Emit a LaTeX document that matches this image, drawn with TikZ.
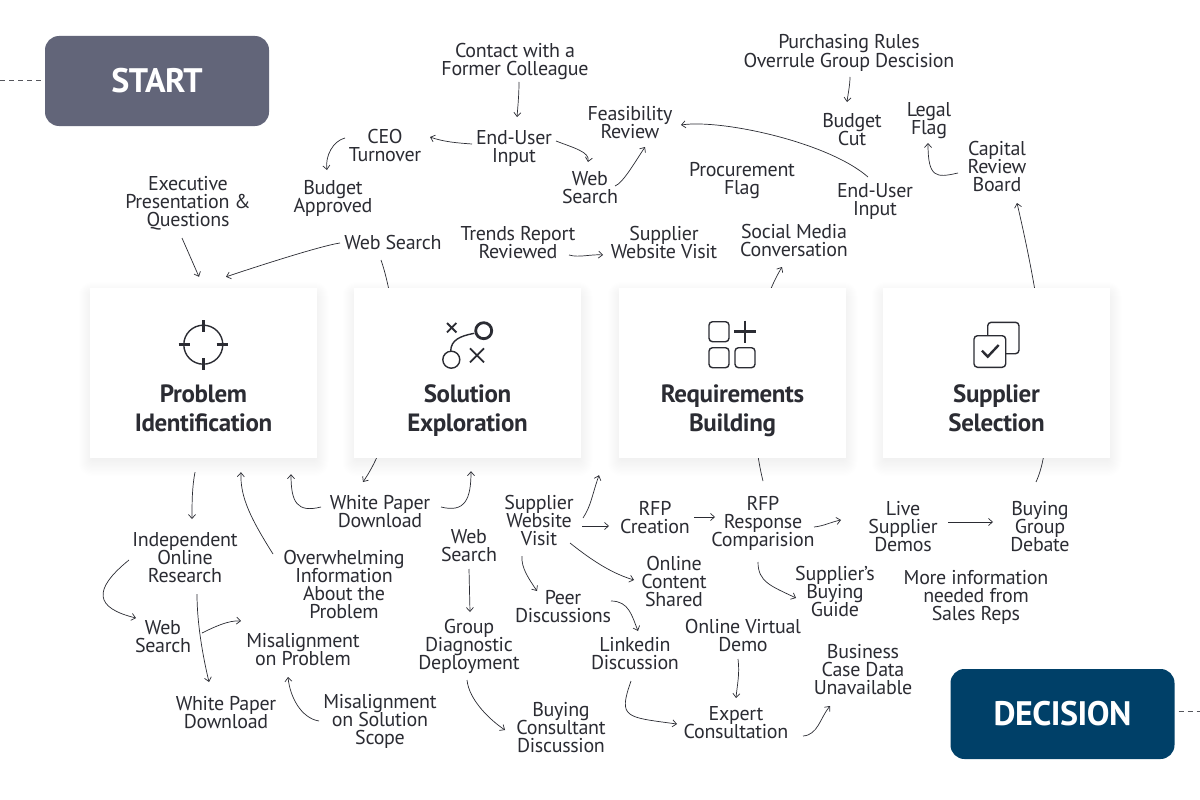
\documentclass[tikz,border=0pt]{standalone}
\usepackage{fontspec}
\setmainfont{PT Sans}[LetterSpace=-1.5]
\usetikzlibrary{arrows.meta}
\definecolor{inkc}{HTML}{2B2C33}
\definecolor{startc}{HTML}{626579}
\definecolor{decisionc}{HTML}{004068}
\newcommand{\tightlines}{\lineskiplimit=-20pt\relax}
\newcommand{\topstrut}{\rule{0pt}{20pt}}
\tikzset{
	txt/.style={align=center, inner sep=0pt, text=inkc, font=\fontsize{20}{18}\selectfont\tightlines,
		execute at end node=\rule[-6pt]{0pt}{6pt}},
	flow/.style={-{Straight Barb[length=4pt,width=7pt]}, line width=0.7pt, draw=inkc},
	cardbox/.style={fill=white, minimum width=227pt, minimum height=170pt, inner sep=0pt},
	cardtitle/.style={align=center, inner sep=0pt, text=inkc, font=\fontsize{25}{29}\selectfont\bfseries\tightlines,
		execute at begin node=\rule{0pt}{19pt}, execute at end node=\rule[-7pt]{0pt}{7pt}},
	endbox/.style={rounded corners=14pt, minimum width=224pt, minimum height=90pt, inner sep=0pt, text=white, font=\fontsize{34}{36}\selectfont\bfseries},
	dashline/.style={dashed, dash pattern=on 5pt off 4pt, line width=1pt, draw=inkc!80},
	icon/.style={draw=inkc, line width=1.8pt},
	iconthin/.style={draw=inkc, line width=1.4pt, rounded corners=3.5pt}
}
\begin{document}
\begin{tikzpicture}[x=1pt, y=-1pt]
	\useasboundingbox (0,0) rectangle (1200,800);
	\fill[white] (0,0) rectangle (1200,800);
	% soft shadows of the four cards
	\foreach \cx in {203.5,467.5,732.5,996.5} {
		\foreach \g in {1,...,14} {
			\fill[black, opacity=0.005, rounded corners=\g pt] (\cx-111-\g, 288+8-\g) rectangle (\cx+111+\g, 458+\g*1.3);
		}
	}
	% start and decision
	\node[endbox, fill=startc] (startbox) at (157,81) {\raisebox{-1.5pt}{START}};
	\node[endbox, fill=decisionc] (decisionbox) at (1062.5,714) {\raisebox{-1pt}{DECISION}};
	\coordinate (startin) at (0,81);
	\coordinate (decisionout) at (1200,711);
	\draw[dashline] (startin) -- ([shift={(-4,0)}]startbox.west);
	\draw[dashline] ([shift={(4,-3)}]decisionbox.east) -- (decisionout);
	% texts above the cards
	\node[txt] (contact) at (515,60) {\topstrut Contact with a\\Former Colleague};
	\node[txt] (enduser) at (514,146) {\topstrut End-User\\Input};
	\node[txt] (ceo) at (385,145) {\topstrut CEO\\Turnover};
	\node[txt] (budgetok) at (333,196) {\topstrut Budget\\Approved};
	\node[txt] (exec) at (188,201) {\topstrut Executive\\Presentation \&\\Questions};
	\node[txt] (websearch) at (393,242) {\topstrut Web Search};
	\node[txt] (feas) at (630,122) {\topstrut Feasibility\\Review};
	\node[txt] (websearchb) at (590,187) {\topstrut Web\\Search};
	\node[txt] (trends) at (518,242) {\topstrut Trends Report\\Reviewed};
	\node[txt] (sitevisit) at (664,242) {\topstrut Supplier\\Website Visit};
	\node[txt] (procure) at (742,178) {\topstrut Procurement\\Flag};
	\node[txt] (social) at (794,240) {\topstrut Social Media\\Conversation};
	\node[txt] (enduserb) at (875,199) {\topstrut End-User\\Input};
	\node[txt] (rules) at (849,51) {\topstrut Purchasing Rules\\Overrule Group Descision};
	\node[txt] (budgetcut) at (852,129) {\topstrut Budget\\Cut};
	\node[txt] (legal) at (929,118) {\topstrut Legal\\Flag};
	\node[txt] (capital) at (997,166) {\topstrut Capital\\Review\\Board};
	% texts below the cards
	\node[txt] (paper) at (380,511) {\topstrut White Paper\\Download};
	\node[txt] (sitevisitb) at (539,520) {\topstrut Supplier\\Website\\Visit};
	\node[txt] (rfp) at (655,517) {\topstrut RFP\\Creation};
	\node[txt] (response) at (763,521) {\topstrut RFP\\Response\\Comparision};
	\node[txt] (demos) at (903,526) {\topstrut Live\\Supplier\\Demos};
	\node[txt] (debate) at (1040,526) {\topstrut Buying\\Group\\Debate};
	\node[txt] (research) at (185,557) {\topstrut Independent\\Online\\Research};
	\node[txt] (overload) at (344,584) {\topstrut Overwhelming\\Information\\About the\\Problem};
	\node[txt] (websearchc) at (469,545) {\topstrut Web\\Search};
	\node[txt] (websearchd) at (163,636) {\topstrut Web\\Search};
	\node[txt] (misproblem) at (303,649) {\topstrut Misalignment\\on Problem};
	\node[txt] (paperb) at (226,712) {\topstrut White Paper\\Download};
	\node[txt] (misscope) at (380,719) {\topstrut Misalignment\\on Solution\\Scope};
	\node[txt] (group) at (469,644) {\topstrut Group\\Diagnostic\\Deployment};
	\node[txt] (consultant) at (561,727) {\topstrut Buying\\Consultant\\Discussion};
	\node[txt] (peer) at (563,606) {\topstrut Peer\\Discussions};
	\node[txt] (shared) at (674,581) {\topstrut Online\\Content\\Shared};
	\node[txt] (linkedin) at (635,653) {\topstrut Linkedin\\Discussion};
	\node[txt] (virtual) at (743,635) {\topstrut Online Virtual\\Demo};
	\node[txt] (guide) at (835,591) {\topstrut Supplier's\\Buying\\Guide};
	\node[txt] (moreinfo) at (976,595) {\topstrut More information\\needed from\\Sales Reps};
	\node[txt] (business) at (863,669) {\topstrut Business\\Case Data\\Unavailable};
	\node[txt] (expert) at (736,722) {\topstrut Expert\\Consultation};
	% these three run behind the cards
	\draw[flow] ([shift={(-12,18)}]websearch.center) .. controls +(14,40) and +(49,-72) .. ([shift={(-17,-29)}]paper.center);
	\draw[flow] ([shift={(0,-40)}]response.center) .. controls +(-8,-31) and +(-44,73) .. ([shift={(-12,27)}]social.center);
	\draw[flow] ([shift={(-4,-44)}]debate.center) .. controls +(15,-32) and +(39,167) .. ([shift={(20,37)}]capital.center);
	% the cards
	\foreach \nm/\cx/\ttl in {prob/203.5/Problem\\Identification, sol/467.5/Solution\\Exploration, req/732.5/Requirements\\Building, sel/996.5/Supplier\\Selection} {
		\node[cardbox] (\nm) at (\cx,373) {};
		\node[cardtitle] (\nm title) at (\cx,412) {\ttl};
	}
	% connectors above the cards
	\draw[flow] ([shift={(4,22)}]contact.center) .. controls +(0,12) and +(1,-12) .. ([shift={(3,-29)}]enduser.center);
	\draw[flow] ([shift={(-42,-2)}]enduser.center) .. controls +(-14,-1) and +(14,5) .. ([shift={(45,-8)}]ceo.center);
	\draw[flow] ([shift={(42,-5)}]enduser.center) .. controls +(18,7) and +(2,-10) .. ([shift={(-2,-25)}]websearchb.center);
	\draw[flow] ([shift={(-40,-7)}]ceo.center) .. controls +(-12,3) and +(-2,-14) .. ([shift={(-6,-26)}]budgetok.center);
	\draw[flow] ([shift={(-6,37)}]exec.center) -- ([shift={(-4.5,-11)}]prob.north);
	\draw[flow] ([shift={(-53,1)}]websearch.center) .. controls +(-20,3) and +(30,-10) .. ([shift={(22.5,-11)}]prob.north);
	\draw[flow] ([shift={(51,13)}]trends.center) .. controls +(10,3) and +(-12,-1) .. ([shift={(-61,13)}]sitevisit.center);
	\draw[flow] ([shift={(25,-1)}]websearchb.center) .. controls +(8,-3) and +(-10,15) .. ([shift={(15,25)}]feas.center);
	\draw[flow] ([shift={(-7,-22)}]enduserb.center) .. controls +(-40,-35) and +(40,-6) .. ([shift={(51,3)}]feas.center);
	\draw[flow] ([shift={(1,26)}]rules.center) .. controls +(0,8) and +(1,-8) .. ([shift={(-5,-27)}]budgetcut.center);
	\draw[flow] ([shift={(-39,7)}]capital.center) .. controls +(-22,5) and +(0,35) .. ([shift={(-1,25)}]legal.center);
	% connectors below the cards
	\draw[flow] ([shift={(-8.5,14)}]prob.south) .. controls +(-3,15) and +(0,-15) .. ([shift={(7,-38)}]research.center);
	\draw[flow] ([shift={(-71,-30)}]overload.center) .. controls +(-22,-35) and +(-1,25) .. ([shift={(37.5,14)}]prob.south);
	\draw[flow] ([shift={(-59,-4)}]paper.center) .. controls +(-24,6) and +(0,28) .. ([shift={(87.5,16)}]prob.south);
	\draw[flow] ([shift={(61,-4)}]paper.center) .. controls +(24,6) and +(0,28) .. ([shift={(3.5,13)}]sol.south);
	\draw[flow] ([shift={(0,24)}]websearchc.center) -- ([shift={(1,-32)}]group.center);
	\draw[flow] ([shift={(-56,3)}]research.center) .. controls +(-37,30) and +(-41,-10) .. ([shift={(-27,-18)}]websearchd.center);
	\draw[flow] ([shift={(12,37)}]research.center) .. controls +(0,30) and +(-6,-25) .. ([shift={(-17,-30)}]paperb.center);
	\draw[flow] ([shift={(39,-3)}]websearchd.center) .. controls +(12,-6) and +(-12,-1) .. ([shift={(-62,-28)}]misproblem.center);
	\draw[flow] ([shift={(-61,2)}]misscope.center) .. controls +(-18,-3) and +(2,20) .. ([shift={(-15,28)}]misproblem.center);
	\draw[flow] ([shift={(-2,36)}]group.center) .. controls +(2,20) and +(-15,-10) .. ([shift={(-56,3)}]consultant.center);
	\draw[flow] ([shift={(-17,36)}]sitevisitb.center) .. controls +(-1,12) and +(-8,-12) .. ([shift={(-26,-15)}]peer.center);
	\draw[flow] ([shift={(44,-2)}]sitevisitb.center) .. controls +(8,-12) and +(-7,20) .. ([shift={(131.5,17)}]sol.south);
	\draw[flow] ([shift={(43,6)}]sitevisitb.center) -- ([shift={(-46,9)}]rfp.center);
	\draw[flow] ([shift={(31,23)}]sitevisitb.center) .. controls +(25,20) and +(-20,-6) .. ([shift={(-40,-1)}]shared.center);
	\draw[flow] ([shift={(39,0)}]rfp.center) -- ([shift={(-48,-4)}]response.center);
	\draw[flow] ([shift={(51,6)}]response.center) .. controls +(10,-1) and +(-10,2) .. ([shift={(-62,-6)}]demos.center);
	\draw[flow] ([shift={(-5,41)}]response.center) .. controls +(0,20) and +(-25,-12) .. ([shift={(-39,7)}]guide.center);
	\draw[flow] ([shift={(48,-5)}]peer.center) .. controls +(18,0) and +(-6,-15) .. ([shift={(3,-22)}]linkedin.center);
	\draw[flow] ([shift={(-4,28)}]linkedin.center) .. controls +(-13,37) and +(-52,-7) .. ([shift={(-59,2)}]expert.center);
	\draw[flow] ([shift={(-5,24)}]virtual.center) .. controls +(2,15) and +(1,-12) .. ([shift={(0,-24)}]expert.center);
	\draw[flow] ([shift={(67,14)}]expert.center) .. controls +(15,-1) and +(-10,12) .. ([shift={(-33,37)}]business.center);
	\draw[flow] ([shift={(45,-4)}]demos.center) -- ([shift={(-47,-4)}]debate.center);
	% icon of the first card
	\draw[draw=inkc, line width=1.4pt] (203.3,344.7) circle (19.5);
	\draw[icon, line width=2.6pt] (203.3,320) -- (203.3,331.5) (203.3,358) -- (203.3,369.5) (178.5,344.7) -- (190,344.7) (216.5,344.7) -- (228,344.7);
	% icon of the second card
	\draw[draw=inkc, line width=2.8pt] (483.7,330.7) circle (8);
	\draw[draw=inkc, line width=1.4pt] (451.3,359.7) circle (8.5);
	\draw[draw=inkc, line width=1.4pt] (450.7,351) .. controls (451,340) and (460,336) .. (474.3,333.3);
	\draw[icon] (447,323) -- (456.4,332.4) (456.4,323) -- (447,332.4);
	\draw[icon] (470,348.3) -- (484,362.3) (484,348.3) -- (470,362.3);
	% icon of the third card
	\draw[iconthin] (709,321.7) rectangle (729,341.7);
	\draw[iconthin] (709,347.7) rectangle (729,367.7);
	\draw[iconthin] (735,347.7) rectangle (755,367.7);
	\draw[icon, line width=2.6pt] (745,320.5) -- (745,342.5) (734,331.7) -- (756,331.7);
	% icon of the fourth card
	\draw[iconthin] (987.7,322.3) rectangle (1019,353.7);
	\draw[iconthin, fill=white] (974,335.7) rectangle (1005.7,367.3);
	\draw[icon, line width=2.4pt] (982,350.7) -- (987.7,356.7) -- (998.7,345);
\end{tikzpicture}
\end{document}
